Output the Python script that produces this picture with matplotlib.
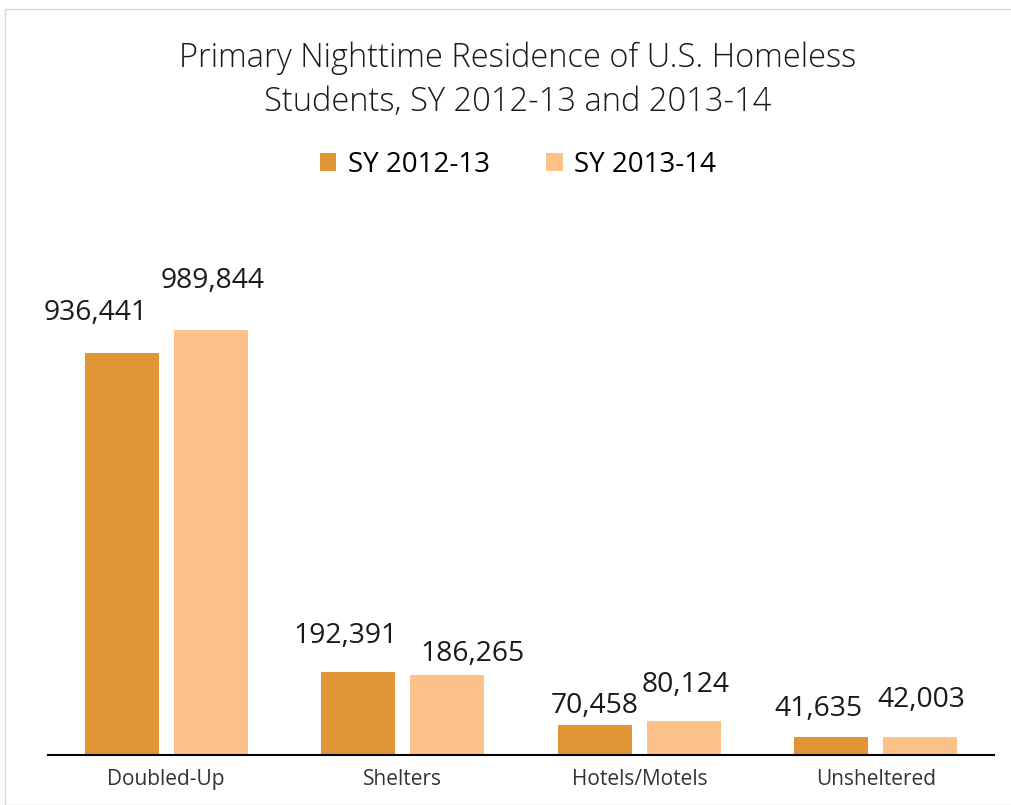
import matplotlib
matplotlib.use("Agg")
import matplotlib.pyplot as plt
import numpy as np
from matplotlib.patches import Rectangle

categories = ["Doubled-Up", "Shelters", "Hotels/Motels", "Unsheltered"]
series_names = ["SY 2012-13", "SY 2013-14"]
sy_2012_13 = [936441, 192391, 70458, 41635]
sy_2013_14 = [989844, 186265, 80124, 42003]

# label offsets in pixels (dx, dy) mimicking the reference placement
offsets_12 = [(-26, 40), (-13, 36), (0, 19), (-13, 28)]
offsets_13 = [(2, 49), (25, 21), (2, 36), (1, 37)]

plt.rcParams['font.family'] = ['Open Sans', 'DejaVu Sans']

fig = plt.figure(figsize=(10.12, 8.05), dpi=100)
fig.patches.append(Rectangle((5/1012, 0), 1.0, 1 - 9/805, transform=fig.transFigure,
                             fill=False, edgecolor='#d9d9d9', linewidth=1.0))

ax = fig.add_axes([47.7/1012, 50/805, 946.6/1012, 555/805])
x = np.arange(len(categories))
w = 0.3126
off = 0.188
c1 = '#E09535'
c2 = '#FDC18A'
b1 = ax.bar(x - off, sy_2012_13, w, color=c1, label=series_names[0])
b2 = ax.bar(x + off, sy_2013_14, w, color=c2, label=series_names[1])

ax.set_xlim(-0.5, len(categories) - 0.5)
ax.set_ylim(0, 989844 * 555 / 425)

for bars, vals, offs in ((b1, sy_2012_13, offsets_12), (b2, sy_2013_14, offsets_13)):
    for rect, v, (dx, dy) in zip(bars, vals, offs):
        ax.annotate(f"{v:,}", (rect.get_x() + rect.get_width() / 2, rect.get_height()),
                    xytext=(dx, dy), textcoords='offset pixels', ha='center', va='center',
                    fontsize=20.3, color='#1a1a1a')

for s in ['top', 'right', 'left']:
    ax.spines[s].set_visible(False)
ax.spines['bottom'].set_linewidth(1.5)
ax.spines['bottom'].set_color('black')
ax.set_yticks([])
ax.set_xticks(x)
ax.set_xticklabels(categories, fontsize=15, color='#333333')
ax.tick_params(axis='x', length=0, pad=10)

fig.text(518/1012, 1 - 80/805, "Primary Nighttime Residence of U.S. Homeless\nStudents, SY 2012-13 and 2013-14",
         ha='center', va='center', fontsize=23.5, color='#1a1a1a', linespacing=1.4,
         fontweight='light')

fig.legend(handles=[b1, b2], labels=series_names, loc='center', bbox_to_anchor=(518/1012, 1 - 165/805),
           ncol=2, frameon=False, fontsize=20, handlelength=0.6, handleheight=0.6,
           columnspacing=2.05, handletextpad=0.4)

fig.savefig("out.png", dpi=100)
